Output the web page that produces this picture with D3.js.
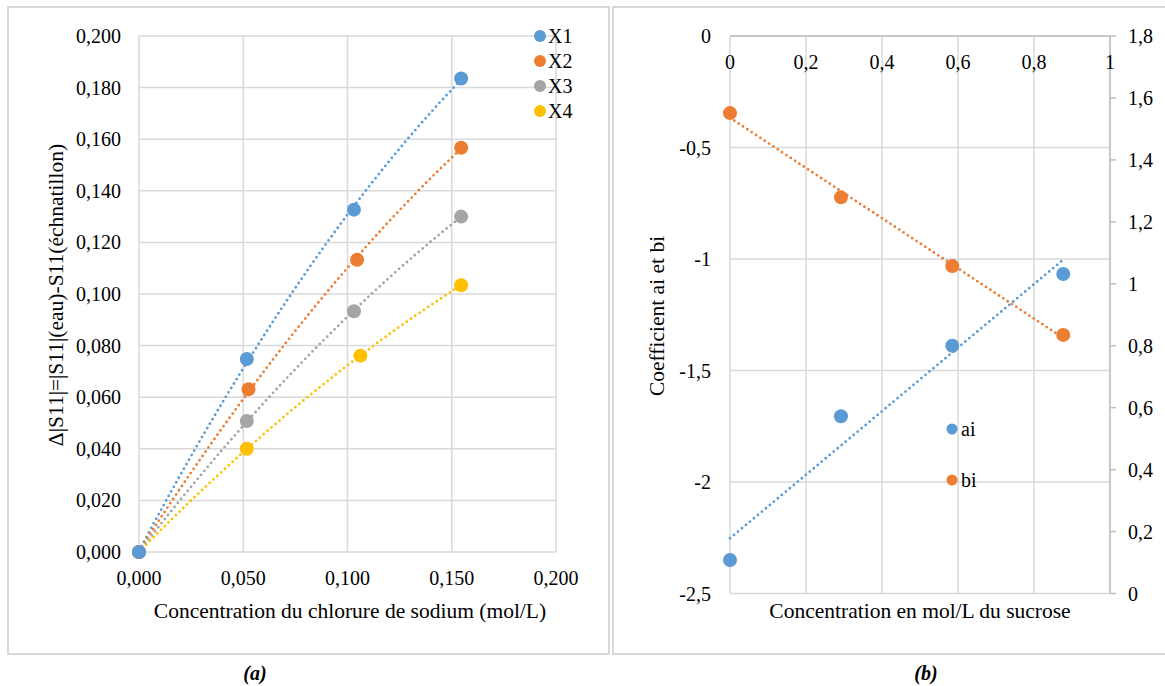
<!DOCTYPE html>
<html><head><meta charset="utf-8">
<script src="https://cdn.jsdelivr.net/npm/d3@7"></script>
<style>
html,body{margin:0;padding:0;background:#fff;}
svg{display:block;}
svg text{font-family:"Liberation Serif","Times New Roman","DejaVu Serif",serif;}
</style></head>
<body><svg id="c" width="1165" height="686"></svg>
<script>
// ---------- data : chart (a) ----------
const seriesNames = ["X1","X2","X3","X4"];
const seriesColors = ["#5B9BD5","#ED7D31","#A5A5A5","#FFC000"];
const concX1 = [0, 0.0517, 0.1031, 0.1545];
const valX1  = [0, 0.0748, 0.1327, 0.1835];
const concX2 = [0, 0.0525, 0.1046, 0.1545];
const valX2  = [0, 0.0631, 0.1133, 0.1567];
const concX3 = [0, 0.0517, 0.1031, 0.1545];
const valX3  = [0, 0.0508, 0.0933, 0.1300];
const concX4 = [0, 0.0517, 0.1062, 0.1545];
const valX4  = [0, 0.0400, 0.0761, 0.1034];
const xTicksA = [0, 0.05, 0.10, 0.15, 0.20];
const yTicksA = [0, 0.02, 0.04, 0.06, 0.08, 0.10, 0.12, 0.14, 0.16, 0.18, 0.20];
const xTitleA = "Concentration du chlorure de sodium (mol/L)";
const yTitleA = "Δ|S11|=|S11|(eau)-S11(échnatillon)";
// ---------- data : chart (b) ----------
const sucrose = [0, 0.292, 0.585, 0.877];
const ai = [-2.35, -1.705, -1.389, -1.067];
const bi = [1.551, 1.279, 1.057, 0.835];
const xTicksB = [0, 0.2, 0.4, 0.6, 0.8, 1];
const yTicksBLeft = [0, -0.5, -1, -1.5, -2, -2.5];
const yTicksBRight = [0, 0.2, 0.4, 0.6, 0.8, 1, 1.2, 1.4, 1.6, 1.8];
const xTitleB = "Concentration en mol/L du sucrose";
const yTitleB = "Coefficient ai et bi";

const svg = d3.select("#c");
const GRID = "#D9D9D9", FS = 20, FST = 21.5, FONT = "Liberation Serif, Times New Roman, DejaVu Serif, serif";
const comma = f => v => f(v).replace(".", ",");
const T = (g, fs) => g.append("text").attr("font-family", FONT).attr("font-size", fs || FS).attr("fill","#000");

// frames
svg.append("rect").attr("x",8).attr("y",7).attr("width",601).attr("height",647)
  .attr("fill","none").attr("stroke",GRID).attr("stroke-width",2);
svg.append("rect").attr("x",613).attr("y",7).attr("width",560).attr("height",647)
  .attr("fill","none").attr("stroke",GRID).attr("stroke-width",2);

function linfit(xs, ys){
  const mx=d3.mean(xs), my=d3.mean(ys);
  let sxy=0,sxx=0; xs.forEach((x,i)=>{sxy+=(x-mx)*(ys[i]-my); sxx+=(x-mx)*(x-mx);});
  const b=sxy/sxx; return x=>my+b*(x-mx);
}
function polyfit2(xs, ys){
  const S=k=>d3.sum(xs,x=>Math.pow(x,k));
  const Q=k=>d3.sum(xs.map((x,i)=>Math.pow(x,k)*ys[i]));
  const A=[[S(0),S(1),S(2),Q(0)],[S(1),S(2),S(3),Q(1)],[S(2),S(3),S(4),Q(2)]];
  for(let i=0;i<3;i++){
    let p=i; for(let r=i+1;r<3;r++) if(Math.abs(A[r][i])>Math.abs(A[p][i])) p=r;
    [A[i],A[p]]=[A[p],A[i]];
    for(let r=0;r<3;r++){ if(r===i) continue; const f=A[r][i]/A[i][i];
      for(let c=i;c<4;c++) A[r][c]-=f*A[i][c]; }
  }
  const c=[A[0][3]/A[0][0],A[1][3]/A[1][1],A[2][3]/A[2][2]];
  return x=>c[0]+c[1]*x+c[2]*x*x;
}
const dotted = p => p.attr("fill","none").attr("stroke-width",2.8)
  .attr("stroke-linecap","round").attr("stroke-dasharray","0 5.2");

// ================= chart (a) =================
const xa = d3.scaleLinear().domain([0,0.2]).range([139,556]);
const ya = d3.scaleLinear().domain([0,0.2]).range([552,36]);
const ga = svg.append("g");
ga.selectAll(".hg").data(yTicksA).join("line")
  .attr("x1",xa(0)).attr("x2",xa(0.2)).attr("y1",d=>ya(d)).attr("y2",d=>ya(d))
  .attr("stroke",GRID).attr("stroke-width",1.5);
ga.selectAll(".vg").data(xTicksA).join("line")
  .attr("y1",ya(0)).attr("y2",ya(0.2)).attr("x1",d=>xa(d)).attr("x2",d=>xa(d))
  .attr("stroke",GRID).attr("stroke-width",1.5);
const fa = comma(d3.format(".3f"));
yTicksA.forEach(d=>T(ga).attr("x",121).attr("y",ya(d)+7).attr("text-anchor","end").text(fa(d)));
xTicksA.forEach(d=>T(ga).attr("x",xa(d)).attr("y",585).attr("text-anchor","middle").text(fa(d)));
T(ga,FST).attr("x",350).attr("y",618).attr("text-anchor","middle").text(xTitleA);
T(ga,FST).attr("transform","translate(63,295) rotate(-90)").attr("text-anchor","middle").text(yTitleA);

const seriesA = [[concX1,valX1],[concX2,valX2],[concX3,valX3],[concX4,valX4]];
const lineA = d3.line().x(d=>xa(d[0])).y(d=>ya(d[1]));
seriesA.forEach(([xs,ys],i)=>{
  const f = polyfit2(xs,ys);
  const xmax = d3.max(xs);
  const pts = d3.range(0,101).map(k=>{const x=xmax*k/100; return [x,f(x)];});
  dotted(ga.append("path").attr("d",lineA(pts)).attr("stroke",seriesColors[i]));
});
seriesA.slice().reverse().forEach(([xs,ys],ri)=>{
  const i = 3-ri;
  ga.selectAll(null).data(xs.map((x,k)=>[x,ys[k]])).join("circle")
    .attr("cx",d=>xa(d[0])).attr("cy",d=>ya(d[1])).attr("r",7).attr("fill",seriesColors[i]);
});
seriesNames.forEach((n,i)=>{
  const y = 36 + i*25;
  ga.append("circle").attr("cx",540).attr("cy",y).attr("r",6).attr("fill",seriesColors[i]);
  T(ga).attr("x",548).attr("y",y+7).text(n);
});
T(svg).attr("x",255).attr("y",680).attr("text-anchor","middle")
  .attr("font-weight","bold").attr("font-style","italic").text("(a)");

// ================= chart (b) =================
const xb = d3.scaleLinear().domain([0,1]).range([730,1110]);
const ybl = d3.scaleLinear().domain([-2.5,0]).range([593.5,36]);
const ybr = d3.scaleLinear().domain([0,1.8]).range([593.5,36]);
const gb = svg.append("g");
gb.selectAll(".hg").data(yTicksBLeft).join("line")
  .attr("x1",xb(0)).attr("x2",xb(1)).attr("y1",d=>ybl(d)).attr("y2",d=>ybl(d))
  .attr("stroke",GRID).attr("stroke-width",1.5);
gb.selectAll(".vg").data(xTicksB).join("line")
  .attr("y1",ybl(-2.5)).attr("y2",ybl(0)).attr("x1",d=>xb(d)).attr("x2",d=>xb(d))
  .attr("stroke",GRID).attr("stroke-width",1.5);
gb.append("line").attr("x1",xb(0)).attr("x2",xb(1)).attr("y1",ybl(0)).attr("y2",ybl(0))
  .attr("stroke","#BFBFBF").attr("stroke-width",1.5);
gb.append("line").attr("x1",xb(1)).attr("x2",xb(1)).attr("y1",ybr(0)).attr("y2",ybr(1.8))
  .attr("stroke","#BFBFBF").attr("stroke-width",1.5);
gb.selectAll(".rt").data(yTicksBRight).join("line")
  .attr("x1",xb(1)).attr("x2",xb(1)+6).attr("y1",d=>ybr(d)).attr("y2",d=>ybr(d))
  .attr("stroke","#BFBFBF").attr("stroke-width",1.5);
const fb = v => String(v).replace(".", ",");
yTicksBLeft.forEach(d=>T(gb).attr("x",711).attr("y",ybl(d)+7).attr("text-anchor","end").text(fb(d)));
yTicksBRight.forEach(d=>T(gb).attr("x",1128).attr("y",ybr(d)+7).attr("text-anchor","start").text(fb(d)));
xTicksB.forEach(d=>T(gb).attr("x",xb(d)).attr("y",69).attr("text-anchor","middle").text(fb(d)));
T(gb,FST).attr("x",920).attr("y",618).attr("text-anchor","middle").text(xTitleB);
T(gb,FST).attr("transform","translate(664,316) rotate(-90)").attr("text-anchor","middle").text(yTitleB);

const fai = linfit(sucrose, ai), fbi = linfit(sucrose, bi);
const xmaxB = d3.max(sucrose);
dotted(gb.append("path").attr("stroke","#5B9BD5")
  .attr("d", d3.line()([[xb(0),ybl(fai(0))],[xb(xmaxB),ybl(fai(xmaxB))]])));
dotted(gb.append("path").attr("stroke","#ED7D31")
  .attr("d", d3.line()([[xb(0),ybr(fbi(0))],[xb(xmaxB),ybr(fbi(xmaxB))]])));
gb.selectAll(".pa").data(sucrose.map((x,i)=>[x,ai[i]])).join("circle")
  .attr("cx",d=>xb(d[0])).attr("cy",d=>ybl(d[1])).attr("r",7).attr("fill","#5B9BD5");
gb.selectAll(".pb").data(sucrose.map((x,i)=>[x,bi[i]])).join("circle")
  .attr("cx",d=>xb(d[0])).attr("cy",d=>ybr(d[1])).attr("r",7).attr("fill","#ED7D31");
[["ai","#5B9BD5",429],["bi","#ED7D31",480]].forEach(([n,c,y])=>{
  gb.append("circle").attr("cx",952).attr("cy",y).attr("r",5.5).attr("fill",c);
  T(gb).attr("x",961).attr("y",y+7).text(n);
});
T(svg).attr("x",926).attr("y",680).attr("text-anchor","middle")
  .attr("font-weight","bold").attr("font-style","italic").text("(b)");
</script></body></html>
